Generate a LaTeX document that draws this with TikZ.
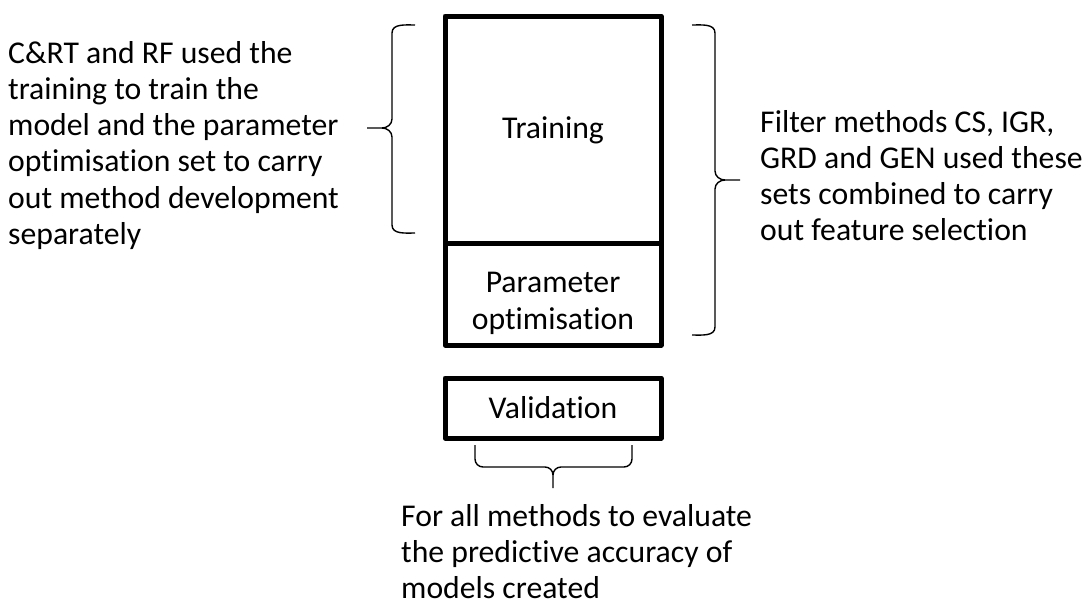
\documentclass[tikz,border=0pt]{standalone}
\usepackage{fontspec}
\setmainfont{Carlito}[Ligatures=CommonOff]
\begin{document}
\begin{tikzpicture}[x=1pt,y=-1pt,
  setbox/.style={draw=black,line width=5pt,line join=round,minimum width=216pt,inner sep=0pt},
  brace/.style={draw=black,line width=1.4pt},
  txt/.style={inner sep=0pt,font=\fontsize{31.7}{36.3}\selectfont},
  block/.style={txt,anchor=base west}]
\useasboundingbox (0,0) rectangle (1087,608);
% boxes
\node[setbox,minimum height=227pt] (train) at (553,129.5) {};
\node[setbox,minimum height=102pt] (param) at (553,294) {};
\node[setbox,minimum height=60pt] (valid) at (553,408) {};
% box texts
\node[txt,anchor=base] (ttrain) at (553,138) {Training};
\node[txt,anchor=base] (tparam) at (553,292) {Parameter};
\node[txt,anchor=base] (topt) at (553,329) {optimisation};
\node[txt,anchor=base] (tvalid) at (553,418) {Validation};
% left brace
\coordinate (lb1) at (415,25);
\coordinate (lb2) at (415,233);
\coordinate (lbt) at (367,128);
\draw[brace] (lb1) to[out=180,in=90] (392,33) -- (392,119) to[out=-90,in=0] (382,128) -- (lbt);
\draw[brace] (382,128) to[out=0,in=90] (392,137) -- (392,225) to[out=-90,in=180] (lb2);
% right brace
\coordinate (rb1) at (692,25);
\coordinate (rb2) at (692,335);
\coordinate (rbt) at (740,180);
\draw[brace] (rb1) to[out=0,in=90] (715,33) -- (715,171) to[out=-90,in=180] (725,180) -- (rbt);
\draw[brace] (725,180) to[out=180,in=90] (715,189) -- (715,327) to[out=-90,in=0] (rb2);
% bottom brace
\coordinate (bb1) at (475,445);
\coordinate (bb2) at (632,445);
\coordinate (bbt) at (553,488);
\draw[brace] (bb1) -- (475,459) to[out=-90,in=180] (483,467) -- (545,467) to[out=0,in=90] (553,475) -- (bbt);
\draw[brace] (553,475) to[out=90,in=180] (561,467) -- (624,467) to[out=0,in=-90] (632,459) -- (bb2);
% annotations
\node[block] (lefttext) at (8,63) {\begin{tabular}[t]{@{}l@{}}C\&RT and RF used the\\ training to train the\\ model and the parameter\\ optimisation set to carry\\ out method development\\ separately\end{tabular}};
\node[block] (righttext) at (760,132) {\begin{tabular}[t]{@{}l@{}}Filter methods CS, IGR,\\ GRD and GEN used these\\ sets combined to carry\\ out feature selection\end{tabular}};
\node[block] (bottomtext) at (401,526) {\begin{tabular}[t]{@{}l@{}}For all methods to evaluate\\ the predictive accuracy of\\ models created\end{tabular}};
\end{tikzpicture}
\end{document}
